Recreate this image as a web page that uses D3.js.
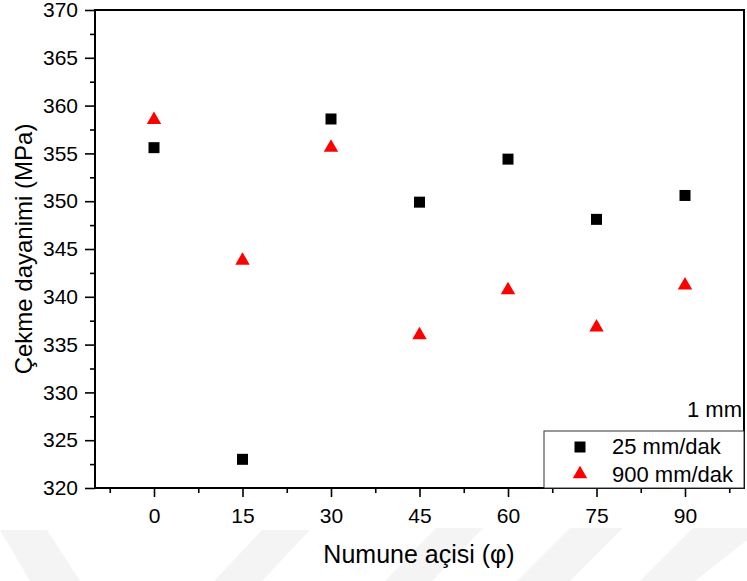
<!DOCTYPE html>
<html>
<head>
<meta charset="utf-8">
<script src="https://cdn.jsdelivr.net/npm/d3@7"></script>
<style>
  body { margin: 0; background: #fff; }
  svg text { font-family: "Liberation Sans", Arial, sans-serif; fill: #000; }
</style>
</head>
<body>
<svg width="747" height="581"></svg>
<script>
// data
const angles = [0, 15, 30, 45, 60, 75, 90];
const speed25 = [355.6, 323.0, 358.6, 349.9, 354.4, 348.1, 350.6];
const speed900 = [358.5, 343.8, 355.6, 336.0, 340.7, 336.8, 341.2];
const xTicks = [0, 15, 30, 45, 60, 75, 90];
const yTicks = [320, 325, 330, 335, 340, 345, 350, 355, 360, 365, 370];
const seriesNames = ['25 mm/dak', '900 mm/dak'];

const svg = d3.select('svg');
const width = 747, height = 581;

// plot frame
const margin = {top: 10, right: 3, bottom: 93, left: 95};
const x = d3.scaleLinear().domain([-10, 100]).range([margin.left, width - margin.right]);
const y = d3.scaleLinear().domain([320, 370]).range([height - margin.bottom, margin.top]);

// faint watermark stripes in the background
const stripes = [
  [[0, 530], [47, 530], [80, 581], [30, 581]],
  [[262, 530], [310, 530], [262, 581], [214, 581]],
  [[436, 528], [483, 528], [432, 581], [385, 581]],
  [[570, 528], [623, 528], [570, 581], [517, 581]],
  [[693, 528], [747, 528], [747, 540], [695, 581], [640, 581]]
];
svg.append('g').selectAll('polygon').data(stripes)
  .enter().append('polygon')
    .attr('points', d => d.map(p => p.join(',')).join(' '))
    .attr('fill', '#f4f4f4');

// axes
const yAxis = svg.append('g')
  .attr('transform', `translate(${margin.left},0)`)
  .call(d3.axisLeft(y).tickValues(yTicks).tickSize(10).tickPadding(7));
const yMinor = svg.append('g')
  .attr('transform', `translate(${margin.left},0)`)
  .call(d3.axisLeft(y).tickValues(yTicks.slice(0, -1).map(v => v + 2.5)).tickSize(5).tickFormat(''));

const xAxis = svg.append('g')
  .attr('transform', `translate(0,${height - margin.bottom})`)
  .call(d3.axisBottom(x).tickValues(xTicks).tickSize(9).tickPadding(11));
const xMinor = svg.append('g')
  .attr('transform', `translate(0,${height - margin.bottom})`)
  .call(d3.axisBottom(x).tickValues([-7.5].concat(xTicks.map(v => v + 7.5))).tickSize(5).tickFormat(''));

[yAxis, yMinor, xAxis, xMinor].forEach(a => {
  a.select('.domain').remove();
  a.selectAll('line').attr('stroke', '#000').attr('stroke-width', 1.6);
  a.selectAll('text').attr('font-size', 21);
});

// frame
svg.append('rect')
  .attr('x', x(-10)).attr('y', y(370))
  .attr('width', x(100) - x(-10)).attr('height', y(320) - y(370))
  .attr('fill', 'none').attr('stroke', '#000').attr('stroke-width', 2);

// markers
const square = d3.symbol().type(d3.symbolSquare).size(121);
const triangle = d3.symbol().type(d3.symbolTriangle).size(90);

svg.append('g').selectAll('path').data(angles)
  .enter().append('path')
    .attr('d', square)
    .attr('transform', (d, i) => `translate(${x(d)},${y(speed25[i])})`)
    .attr('fill', '#000');

svg.append('g').selectAll('path').data(angles)
  .enter().append('path')
    .attr('d', triangle)
    .attr('transform', (d, i) => `translate(${x(d)},${y(speed900[i])})`)
    .attr('fill', '#ff0000');

// annotation
svg.append('text')
  .attr('x', 742).attr('y', 417)
  .attr('text-anchor', 'end')
  .attr('font-size', 22)
  .text('1 mm');

// legend
const legend = svg.append('g');
legend.append('rect')
  .attr('x', 544).attr('y', 431)
  .attr('width', x(100) - 544).attr('height', y(320) - 431)
  .attr('fill', '#fff').attr('stroke', '#333').attr('stroke-width', 1);
legend.append('path')
  .attr('d', square)
  .attr('transform', 'translate(580,447)')
  .attr('fill', '#000');
legend.append('path')
  .attr('d', triangle)
  .attr('transform', 'translate(580,474)')
  .attr('fill', '#ff0000');
legend.selectAll('text').data(seriesNames)
  .enter().append('text')
    .attr('x', 612)
    .attr('y', (d, i) => 454 + i * 28)
    .attr('font-size', 22)
    .text(d => d);

// axis titles
svg.append('text')
  .attr('transform', 'translate(32,249) rotate(-90)')
  .attr('text-anchor', 'middle')
  .attr('font-size', 24)
  .text('Çekme dayanimi (MPa)');

svg.append('text')
  .attr('x', 419).attr('y', 563)
  .attr('text-anchor', 'middle')
  .attr('font-size', 25)
  .text('Numune açisi (φ)');
</script>
</body>
</html>
